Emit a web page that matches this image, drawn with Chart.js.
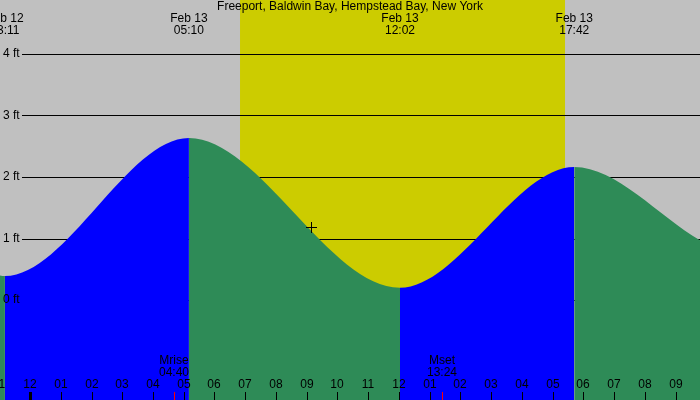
<!DOCTYPE html>
<html><head><meta charset="utf-8">
<script src="https://cdn.jsdelivr.net/npm/chart.js@4/dist/chart.umd.min.js"></script>
<style>html,body{margin:0;padding:0;background:#c0c0c0}#w{width:700px;height:400px}</style>
</head><body><div id="w"><canvas id="c"></canvas></div>
<script>
// hours relative to Feb 13 00:00
const tideHours = [-0.976, -0.817, 5.167, 12.033, 17.7, 21.79];
const tideFeet  = [0.40, 0.39, 2.63, 0.20, 2.16, 0.97];
const extremeHours = [-0.817, 5.167, 12.033, 17.7];
const extremeDates = ["Feb 12", "Feb 13", "Feb 13", "Feb 13"];
const extremeTimes = ["23:11", "05:10", "12:02", "17:42"];
const sunHours = [6.83, 17.4];
const moonHours = [4.667, 13.4];
const moonLabels = [["Mrise", "04:40"], ["Mset", "13:24"]];
const feetTicks = [0, 1, 2, 3, 4];
const hourTicks = [-1,0,1,2,3,4,5,6,7,8,9,10,11,12,13,14,15,16,17,18,19,20,21];
const hourLabels = ["11","12","01","02","03","04","05","06","07","08","09","10","11","12","01","02","03","04","05","06","07","08","09"];
const title = "Freeport, Baldwin Bay, Hempstead Bay, New York";

const FONT = '12px "Liberation Sans", Arial, sans-serif';
const bg = {
  id: 'bg',
  beforeDatasetsDraw(ch) {
    const {ctx, chartArea: a, scales: {x, y}} = ch;
    ctx.save();
    ctx.fillStyle = '#c0c0c0'; ctx.fillRect(0, 0, ch.width, ch.height);
    ctx.fillStyle = '#cccc00';
    const s = x.getPixelForValue(sunHours[0]), e = x.getPixelForValue(sunHours[1]);
    ctx.fillRect(s, 0, e - s, ch.height);
    ctx.strokeStyle = '#000'; ctx.lineWidth = 1;
    feetTicks.forEach(f => {
      const py = Math.round(y.getPixelForValue(f)) + 0.5;
      ctx.beginPath(); ctx.moveTo(22, py); ctx.lineTo(ch.width, py); ctx.stroke();
    });
    ctx.restore();
  },
  afterDatasetsDraw(ch) {
    const {ctx, scales: {x, y}} = ch;
    ctx.save();
    ctx.fillStyle = '#000'; ctx.font = FONT; ctx.textBaseline = 'middle';
    ctx.textAlign = 'left';
    feetTicks.forEach(f => ctx.fillText(f + ' ft', 3, y.getPixelForValue(f)));
    ctx.textAlign = 'center';
    ctx.fillText(title, 350, 7);
    extremeHours.forEach((h, i) => {
      const px = x.getPixelForValue(h);
      ctx.fillText(extremeDates[i], px, 19);
      ctx.fillText(extremeTimes[i], px, 31);
    });
    hourTicks.forEach((h, i) => {
      const px = Math.round(x.getPixelForValue(h));
      ctx.fillText(hourLabels[i], px, 385);
      ctx.fillRect(h === 0 ? px - 1 : px, 392, h === 0 ? 3 : 1, 8);
    });
    moonHours.forEach((h, i) => {
      const px = Math.round(x.getPixelForValue(h));
      ctx.fillStyle = '#000';
      ctx.fillText(moonLabels[i][0], px, 361);
      ctx.fillText(moonLabels[i][1], px, 373);
      ctx.fillStyle = '#ff0000';
      ctx.fillRect(px, 392, 1, 8);
    });
    ctx.fillStyle = '#000';
    ctx.fillRect(306, 227, 11, 1); ctx.fillRect(311, 222, 1, 11);
    ctx.restore();
  }
};

const BLUE = '#0000ff', GREEN = '#2e8b57';
const rising = c => c.p1.parsed.y > c.p0.parsed.y;
new Chart(document.getElementById('c'), {
  type: 'line',
  data: { datasets: [{
    data: tideHours.map((h, i) => ({x: h, y: tideFeet[i]})),
    fill: 'start', borderWidth: 0, pointRadius: 0,
    cubicInterpolationMode: 'monotone',
    backgroundColor: BLUE, borderColor: 'rgba(0,0,0,0)',
    segment: { backgroundColor: c => rising(c) ? BLUE : GREEN }
  }]},
  options: {
    responsive: true, maintainAspectRatio: false, animation: false,
    layout: { padding: 0 },
    plugins: { legend: {display: false}, tooltip: {enabled: false} },
    scales: {
      x: { type: 'linear', min: -0.976, max: 21.79, display: false },
      y: { min: -1.62, max: 4.87, display: false }
    }
  },
  plugins: [bg]
});
</script></body></html>
